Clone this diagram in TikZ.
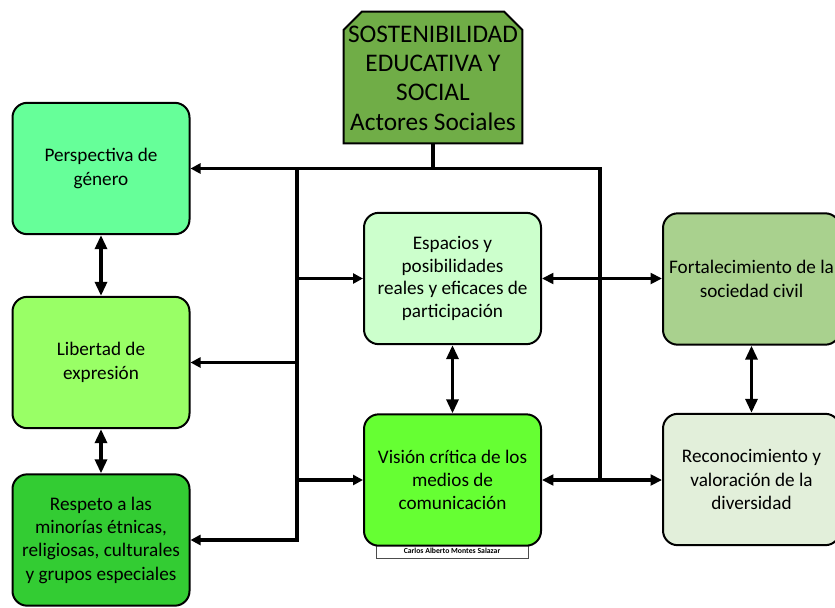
\documentclass[tikz,border=0pt]{standalone}
\usepackage{fontspec}
\setmainfont{Carlito}
\usetikzlibrary{arrows.meta}
\definecolor{ctop}{HTML}{70AD47}
\definecolor{cpersp}{HTML}{66FF99}
\definecolor{clib}{HTML}{99FF66}
\definecolor{cresp}{HTML}{33CC33}
\definecolor{cesp}{HTML}{CCFFCC}
\definecolor{cvis}{HTML}{66FF33}
\definecolor{cfort}{HTML}{A9D18E}
\definecolor{crec}{HTML}{E2EFDA}
\begin{document}
\begin{tikzpicture}[x=0.75pt,y=-0.75pt,
  box/.style={draw=black, line width=1.5pt, rounded corners=11pt,
    minimum width=132.75pt, minimum height=98.5pt, inner sep=0pt,
    align=center, font=\fontsize{14.4}{17.5}\selectfont},
  conline/.style={line width=2.4pt},
  sarr/.style={line width=2.4pt, -{Triangle[length=7.5pt,width=7.5pt]}},
  hdarr/.style={line width=2.4pt, {Triangle[length=8.5pt,width=8pt]}-{Triangle[length=8.5pt,width=8pt]}},
  vdarr/.style={line width=2.4pt, {Triangle[length=10.5pt,width=9pt]}-{Triangle[length=10.5pt,width=9pt]}},
  capbox/.style={draw=black!70, line width=0.6pt, fill=white, minimum width=114pt,
    minimum height=11.25pt, inner sep=0pt, font=\fontsize{5.8}{6}\selectfont\bfseries}
]
\useasboundingbox (0,0) rectangle (835,607);
\begin{scope}
\clip (0,0) rectangle (835,607);
% top box
\node[minimum width=133.5pt, minimum height=98.25pt, inner sep=0pt] (top) at (433,77.5) {};
\filldraw[fill=ctop, draw=black, line width=1.5pt]
  (top.south west) -- ([yshift=-13.5pt]top.north west) -- ([xshift=13.5pt]top.north west)
  -- ([xshift=-13.5pt]top.north east) -- ([yshift=-13.5pt]top.north east) -- (top.south east) -- cycle;
\node[align=center, inner sep=0pt, font=\fontsize{19}{22}\selectfont] (toptext) at ([yshift=-0.5pt]top.center)
  {SOSTENIBILIDAD\\EDUCATIVA Y\\SOCIAL\\Actores Sociales};

% boxes
\node[box, fill=cpersp] (persp) at (101,168.5) {Perspectiva de\\género};
\node[box, fill=clib] (lib) at (101,362.5) {Libertad de\\expresión};
\node[box, fill=cresp] (resp) at (101,540) {Respeto a las\\minorías étnicas,\\religiosas, culturales\\y grupos especiales};
\node[box, fill=cesp, font=\fontsize{14.4}{16.8}\selectfont] (esp) at (452.5,278.5) {Espacios y\\posibilidades\\reales y eficaces de\\participación};
\node[capbox] (caption) at (452,550.5) {Carlos Alberto Montes Salazar};
\node[box, fill=cvis] (vis) at (452.5,480) {Visión crítica de los\\medios de\\comunicación};
\node[box, fill=cfort] (fort) at (751.5,279) {Fortalecimiento de la\\sociedad civil};
\node[box, fill=crec] (rec) at (751.5,479.5) {Reconocimiento y\\valoración de la\\diversidad};

% junction coordinates
\coordinate (lj) at (297,168.5);
\coordinate (rj) at (600,168.5);
\coordinate (rb) at (600,480);

% connectors
\draw[conline] (top.south) -- (top.south |- lj);
\draw[conline] (lj) -- (rj) -- (rb);
\draw[sarr] (lj) -- (persp.east);
\draw[sarr, line join=miter] (lj) |- (resp.east);
\draw[sarr] (lj |- lib.east) -- (lib.east);
\draw[sarr] (lj |- esp.west) -- (esp.west);
\draw[sarr] (lj |- vis.west) -- (vis.west);
\draw[hdarr] (esp.east) -- (esp.east -| fort.west);
\draw[hdarr] (vis.east) -- (vis.east -| rec.west);
\draw[vdarr] (persp.south) -- (lib.north);
\draw[vdarr] (lib.south) -- (resp.north);
\draw[vdarr] (esp.south) -- (vis.north);
\draw[vdarr] (fort.south) -- (rec.north);
\end{scope}
\end{tikzpicture}
\end{document}
